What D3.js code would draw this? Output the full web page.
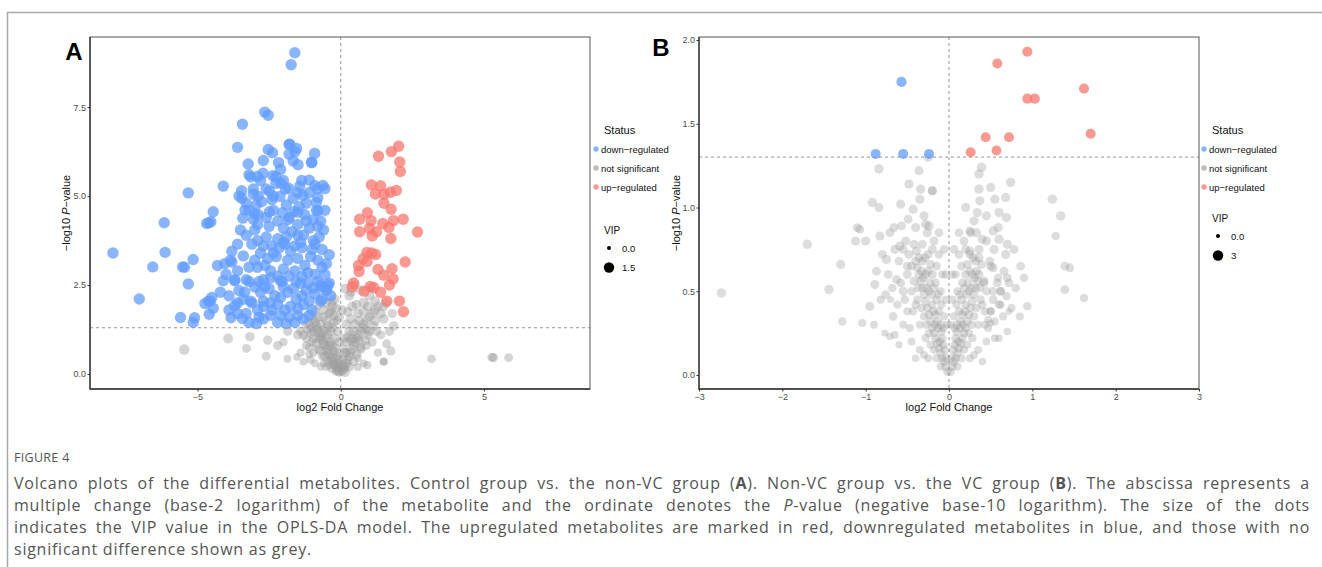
<!DOCTYPE html>
<html lang="en">
<head>
<meta charset="UTF-8">
<title>Volcano plots of the differential metabolites</title>
<script src="https://d3js.org/d3.v7.min.js"></script>
<style>
  body { margin: 0; background: #fff; }
  #wrap { position: relative; width: 1322px; height: 567px; overflow: hidden; }
  #chart { position: absolute; left: 0; top: 0; font-family: "Liberation Sans", Arial, sans-serif; }
  #caption { position: absolute; left: 14px; top: 449px; width: 1296px; font-family: "Open Sans", sans-serif; color: #555; }
  #caption .fig { font-size: 12.5px; line-height: 18px; margin-bottom: 5px; letter-spacing: 0.3px; }
  #caption .ln { font-size: 16px; line-height: 22px; letter-spacing: 0.75px; text-align: justify; text-align-last: justify; }
  #caption .ln.last { text-align-last: left; }
</style>
</head>
<body>
<div id="wrap">
  <svg id="chart" width="1322" height="567"></svg>
  <div id="caption">
    <div class="fig">FIGURE 4</div>
    <div class="ln">Volcano plots of the differential metabolites. Control group vs. the non-VC group (<b>A</b>). Non-VC group vs. the VC group (<b>B</b>). The abscissa represents a</div>
    <div class="ln">multiple change (base-2 logarithm) of the metabolite and the ordinate denotes the <i>P</i>-value (negative base-10 logarithm). The size of the dots</div>
    <div class="ln">indicates the VIP value in the OPLS-DA model. The upregulated metabolites are marked in red, downregulated metabolites in blue, and those with no</div>
    <div class="ln last">significant difference shown as grey.</div>
  </div>
</div>
<script>
// each point: [log2 fold change, -log10 P, VIP]
const downA = [
  [-1.60,9.03,1.7],[-1.73,8.69,1.7],[-2.65,7.36,1.7],[-2.53,7.27,1.7],[-3.43,7.02,1.7],[-3.60,6.37,1.7],
  [-1.80,6.45,1.7],[-1.54,6.34,1.7],[-2.53,6.31,1.7],[-2.38,6.22,1.7],[-1.80,6.18,1.7],[-1.60,6.25,1.7],
  [-0.91,6.20,1.7],[-3.23,5.90,1.7],[-2.17,5.94,1.7],[-1.66,5.99,1.7],[-1.49,5.88,1.7],[-1.01,5.94,1.7],
  [-3.14,5.54,1.7],[-2.71,5.64,1.7],[-2.26,5.54,1.7],[-2.80,5.43,1.7],[-2.26,5.36,1.7],[-4.10,5.28,1.7],
  [-5.32,5.09,1.7],[-3.46,5.15,1.7],[-3.45,4.94,1.7],[-2.88,5.00,1.7],[-2.08,5.36,1.7],[-1.82,5.22,1.7],
  [-1.43,5.28,1.7],[-0.81,5.21,1.7],[-0.55,5.21,1.7],[-1.32,5.02,1.7],[-1.66,4.94,1.7],[-2.12,4.99,1.7],
  [-2.49,5.14,1.7],[-2.76,4.84,1.7],[-0.85,4.82,1.7],[-0.79,4.59,1.7],[-4.45,4.56,1.7],[-4.53,4.28,1.7],
  [-4.68,4.23,1.7],[-6.16,4.25,1.7],[-3.34,4.61,1.7],[-2.88,4.48,1.7],[-2.49,4.56,1.7],[-2.03,4.53,1.7],
  [-1.64,4.56,1.7],[-1.26,4.48,1.7],[-3.42,4.38,1.7],[-1.83,4.34,1.7],[-0.96,4.34,1.7],
  [-1.78,6.46,1.7],[-1.02,5.95,1.7],[-3.20,5.60,1.7],[-2.90,5.55,1.7],[-2.37,5.57,1.7],[-2.00,5.44,1.7],
  [-1.36,5.44,1.7],[-0.91,5.30,1.7],[-0.62,5.30,1.7],[-3.05,5.20,1.7],[-3.05,5.05,1.7],[-2.35,5.00,1.7],
  [-1.93,5.20,1.7],[-1.50,5.10,1.7],[-1.10,5.10,1.7],[-0.80,4.96,1.7],[-4.60,4.25,1.7],[-3.20,4.60,1.7],
  [-2.60,4.40,1.7],[-2.35,4.60,1.7],[-1.80,4.40,1.7],[-1.50,4.55,1.7],[-0.85,4.60,1.7],[-3.05,4.35,1.7],
  [-3.50,4.05,1.7],[-3.00,4.05,1.7],[-2.50,4.15,1.7],[-2.00,4.10,1.7],[-1.50,4.20,1.7],[-1.10,4.10,1.7],
  [-0.80,4.15,1.7],[-0.60,4.05,1.7],[-2.60,3.85,1.7],[-2.20,3.80,1.7],[-1.90,3.85,1.7],[-1.50,3.90,1.7],
  [-0.95,3.75,1.7],[-3.60,3.65,1.7],[-3.10,3.65,1.7],[-2.70,3.60,1.7],[-2.15,3.55,1.7],[-1.75,3.45,1.7],
  [-1.35,3.55,1.7],[-0.90,3.65,1.7],[-0.65,3.50,1.7],[-0.40,3.35,1.7],[-3.40,3.32,1.7],[-3.00,3.20,1.7],
  [-2.55,3.25,1.7],[-2.25,3.30,1.7],[-1.85,3.20,1.7],[-1.50,3.25,1.7],[-1.05,3.30,1.7],[-0.80,3.20,1.7],
  [-4.05,3.10,1.7],[-3.80,3.15,1.7],[-5.15,3.22,1.7],[-5.45,3.00,1.7],[-3.20,3.00,1.7],[-2.90,3.00,1.7],
  [-2.45,2.90,1.7],[-2.00,2.95,1.7],[-1.60,2.90,1.7],[-1.15,2.85,1.7],[-0.65,3.00,1.7],[-3.70,2.65,1.7],
  [-3.30,2.65,1.7],[-2.85,2.60,1.7],[-2.45,2.70,1.7],[-2.05,2.60,1.7],[-1.55,2.60,1.7],[-1.15,2.55,1.7],
  [-0.70,2.50,1.7],[-0.40,2.55,1.7],[-5.32,2.53,1.7],[-3.55,2.35,1.7],[-3.35,2.30,1.7],[-2.80,2.30,1.7],
  [-2.30,2.20,1.7],[-1.85,2.30,1.7],[-1.35,2.20,1.7],[-0.90,2.25,1.7],[-0.50,2.35,1.7],[-4.50,2.15,1.7],
  [-4.55,2.05,1.7],[-3.60,2.00,1.7],[-3.10,2.00,1.7],[-2.70,1.90,1.7],[-2.20,1.95,1.7],[-1.75,1.90,1.7],
  [-1.30,1.95,1.7],[-0.70,2.05,1.7],[-4.45,1.85,1.7],[-3.60,1.70,1.7],[-3.30,1.70,1.7],[-2.85,1.60,1.7],
  [-2.45,1.65,1.7],[-2.10,1.65,1.7],[-1.80,1.60,1.7],[-1.50,1.65,1.7],[-2.70,1.55,1.7],[-5.10,1.58,1.7],
  [-7.95,3.40,1.7],[-6.13,3.42,1.7],[-6.56,3.01,1.7],[-5.52,3.01,1.7],[-7.03,2.11,1.7],[-4.74,1.98,1.7],
  [-4.62,2.05,1.7],[-4.59,1.68,1.7],[-5.59,1.59,1.7],[-5.15,1.45,1.7],[-3.83,1.58,1.7],[-3.43,1.56,1.7],
  [-2.94,1.42,1.7],[-1.90,1.42,1.7],[-1.30,1.55,1.7],[-4.30,3.05,1.7],[-4.10,2.62,1.7],[-3.85,3.20,1.7],
  [-3.70,2.62,1.7],[-3.20,2.60,1.7],[-2.70,2.65,1.7],[-2.10,2.62,1.7],[-1.40,2.55,1.7],[-0.96,2.42,1.7],
  [-0.49,2.38,1.7],[-0.65,2.10,1.7],[-3.90,2.20,1.7],[-3.70,1.92,1.7],[-3.15,2.05,1.7],[-2.70,2.05,1.7],
  [-2.10,2.15,1.7],[-1.55,2.10,1.7],[-1.10,2.05,1.7],[-0.65,2.45,1.7],[-0.45,2.50,1.7],
  [-2.40,4.90,1.7],[-1.20,4.80,1.7],[-2.95,4.75,1.7],[-1.40,3.70,1.7],[-2.35,3.40,1.7],[-1.25,3.05,1.7],
  [-2.65,2.45,1.7],[-1.65,2.40,1.7],[-2.40,1.80,1.7],[-1.00,1.80,1.7],[-0.35,2.20,1.7],[-1.95,3.65,1.7],
  [-3.30,4.80,1.7],[-2.90,4.20,1.7],[-2.20,4.30,1.7],[-1.70,4.00,1.7],[-1.20,4.30,1.7],[-0.70,4.30,1.7],
  [-3.30,3.90,1.7],[-2.80,3.40,1.7],[-2.00,3.70,1.7],[-1.60,3.60,1.7],[-1.00,3.50,1.7],[-0.50,3.10,1.7],
  [-3.60,2.90,1.7],[-2.65,3.05,1.7],[-2.20,2.75,1.7],[-1.80,2.75,1.7],[-1.35,2.75,1.7],[-0.90,2.80,1.7],
  [-0.55,2.80,1.7],[-3.00,2.45,1.7],[-2.50,2.40,1.7],[-2.00,2.45,1.7],[-1.20,2.35,1.7],[-0.80,2.60,1.7],
  [-3.40,2.10,1.7],[-2.90,1.80,1.7],[-2.45,2.00,1.7],[-1.95,1.80,1.7],[-1.50,1.85,1.7],[-1.10,1.65,1.7],
  [-2.20,1.45,1.7],[-3.20,1.45,1.7],[-1.60,1.45,1.7],[-1.90,4.75,1.7],[-2.60,5.20,1.7],[-1.10,5.45,1.7],
  [-2.10,5.75,1.7],[-3.00,4.50,1.7],[-3.80,3.45,1.7],[-4.00,2.80,1.7],[-3.90,1.80,1.7],[-4.20,2.30,1.7],
  [-2.40,3.60,1.7],[-1.30,3.90,1.7],[-0.75,3.85,1.7],[-2.90,3.75,1.7],[-1.45,4.70,1.7],[-0.55,4.60,1.7],
  [-3.55,5.00,1.7],[-2.70,6.00,1.7]
];
const upA = [
  [2.02,6.40,1.7],[1.77,6.25,1.7],[1.32,6.12,1.7],[2.06,5.96,1.7],[2.08,5.69,1.7],[1.07,5.31,1.7],
  [1.39,5.29,1.7],[1.94,5.16,1.7],[1.73,5.11,1.7],[1.21,5.06,1.7],[1.51,5.05,1.7],[1.51,4.80,1.7],
  [1.76,4.63,1.7],[0.93,4.53,1.7],[0.66,4.35,1.7],[1.06,4.31,1.7],[1.47,4.23,1.7],[1.84,4.31,1.7],
  [2.18,4.35,1.7],[0.66,4.00,1.7],[1.00,4.09,1.7],[1.25,4.00,1.7],[1.68,4.12,1.7],[1.10,3.88,1.7],
  [1.75,3.81,1.7],[2.68,3.99,1.7],[0.92,3.42,1.7],[1.22,3.36,1.7],[0.78,3.24,1.7],[0.92,3.16,1.7],
  [0.62,3.05,1.7],[0.64,2.88,1.7],[1.30,2.94,1.7],[1.50,2.78,1.7],[1.79,2.96,1.7],[2.25,3.15,1.7],
  [1.83,2.67,1.7],[1.70,2.50,1.7],[0.45,2.56,1.7],[0.82,2.33,1.7],[1.03,2.46,1.7],[1.15,2.43,1.7],
  [1.39,2.30,1.7],[1.61,2.05,1.7],[2.05,2.05,1.7],[2.19,1.75,1.7],[0.40,2.45,1.7],[1.08,3.40,1.7]
];
const nsA = [
  [-5.46,0.69,1.3],[-3.93,1.00,1.1],[-3.17,1.05,1.0],[-3.29,0.72,0.8],[-2.60,0.50,0.8],[-2.55,0.95,0.9],
  [-2.20,0.80,0.9],[-2.00,0.90,0.7],[-1.86,0.43,0.5],[-1.53,0.48,0.4],[-1.40,0.60,0.6],[-1.20,0.80,0.8],
  [-1.10,0.55,0.5],[-1.85,1.20,0.9],[-1.50,1.10,1.0],[-1.30,1.10,0.9],[-0.96,1.20,1.0],
  [3.17,0.43,0.7],[5.28,0.47,0.9],[5.33,0.46,0.9],[5.86,0.46,0.8],[1.50,0.35,0.6],[0.93,0.25,0.6],
  [1.75,0.65,0.9],[0.36,2.30,1.0],[0.70,0.75,0.8],
  [-0.05,0.05,0.9],[-0.10,0.10,1.0],[-0.15,0.18,1.1],[-0.20,0.25,1.0],[-0.25,0.30,0.9],[-0.30,0.38,1.1],
  [-0.35,0.45,1.0],[-0.40,0.55,1.2],[-0.45,0.60,1.0],[-0.50,0.70,1.1],[-0.55,0.80,1.0],[-0.60,0.85,1.2],
  [-0.65,0.95,1.1],[-0.70,1.05,1.0],[-0.75,1.15,1.2],[-0.80,1.25,1.1],[-0.85,1.35,1.0],[-0.90,1.45,1.2],
  [-0.95,1.55,1.1],[-0.40,1.70,1.0],[-0.30,1.90,1.1],[-0.60,1.80,1.2],[-0.20,2.10,1.0],[-0.50,1.50,1.1],
  [-0.30,1.30,1.0],[-0.20,1.00,0.9],[-0.35,0.90,1.1],[-0.15,0.60,0.8],[-0.25,0.65,0.9],[-0.45,1.10,1.0],
  [-0.55,1.25,1.1],[-0.70,1.40,1.0],[-1.00,1.30,0.9],[-1.20,1.00,0.7],[-1.00,0.90,0.8],[-0.80,0.70,0.7],
  [-0.65,0.50,0.6],[-0.95,0.60,0.6],[-1.10,0.75,0.7],[-1.30,0.35,0.5],[-0.60,0.30,0.5],[-0.40,0.25,0.6],
  [-0.10,0.30,0.8],[-0.10,0.50,0.9],[-0.05,0.20,1.0],[-0.70,0.20,0.4],[-1.40,1.20,0.8],[-1.20,1.40,0.9],
  [-0.90,1.75,1.1],[-0.75,1.95,1.0],[-0.50,2.00,1.1],[-0.15,1.50,0.9],[-0.10,1.20,1.0],[-0.25,1.65,1.0],
  [-0.32,2.03,1.1],[-0.05,0.40,0.9],[-0.20,0.45,1.0],[-0.30,0.80,0.9],[-0.50,1.00,1.0],[-0.35,1.20,1.1],
  [0.05,0.08,0.9],[0.10,0.15,1.0],[0.15,0.20,1.1],[0.20,0.30,1.0],[0.25,0.40,0.9],[0.30,0.50,1.1],
  [0.35,0.60,1.0],[0.40,0.70,1.2],[0.45,0.80,1.0],[0.50,0.90,1.1],[0.55,1.00,1.0],[0.60,1.10,1.2],
  [0.70,1.20,1.1],[0.75,1.30,1.0],[0.80,1.40,1.2],[0.90,1.50,1.1],[1.00,1.60,1.0],[1.10,1.70,1.2],
  [1.20,1.80,1.1],[1.30,1.90,1.0],[0.30,1.20,1.0],[0.20,0.90,0.9],[0.15,0.60,0.9],[0.50,1.40,1.1],
  [0.60,1.70,1.0],[0.40,1.90,1.1],[0.80,2.00,1.2],[1.00,2.20,1.1],[0.70,2.35,1.0],[0.30,2.20,1.1],
  [1.50,1.55,1.0],[1.70,1.20,0.9],[1.40,1.10,0.8],[1.10,0.90,0.8],[0.90,0.80,0.7],[1.30,0.60,0.6],
  [1.60,0.85,0.8],[1.85,1.35,0.9],[0.60,0.45,0.6],[0.80,0.30,0.5],[1.50,0.35,0.5],[0.35,1.55,1.0],
  [1.15,1.35,0.9],[0.95,1.10,0.9],[1.20,2.05,1.0],[1.50,1.90,1.0],[0.50,2.50,1.0],[0.10,0.40,0.9],
  [0.25,1.05,1.0],[0.05,0.25,1.0],[0.20,0.60,1.0],[0.40,1.00,1.0],[0.65,1.50,1.1],[0.10,0.70,0.9],
  [-0.15,0.08,1.0],[-0.30,0.15,0.9],[-0.45,0.35,1.0],[-0.55,0.50,1.1],[-0.70,0.65,1.0],[-0.85,0.85,1.1],
  [-0.95,1.00,1.0],[-1.05,1.15,1.1],[-1.15,1.25,1.0],[-0.65,1.15,1.1],[-0.75,1.00,1.0],[-0.40,0.80,1.0],
  [-0.25,1.45,1.1],[-0.45,1.35,1.0],[-0.60,1.60,1.1],[-0.80,1.60,1.0],[-1.10,1.45,1.0],[-0.35,1.75,1.1],
  [-0.15,1.85,1.0],[-0.05,1.60,1.0],[-0.50,0.20,0.6],[-0.90,0.30,0.5],[-1.05,0.40,0.6],[-0.20,0.75,0.9],
  [-0.05,0.90,0.9],[0.15,0.05,1.0],[0.30,0.20,0.9],[0.45,0.35,1.0],[0.55,0.55,1.0],[0.70,0.70,1.0],
  [0.85,0.95,1.1],[1.00,1.20,1.0],[0.20,1.40,1.0],[0.10,1.00,1.0],[0.45,1.20,1.1],[0.65,0.95,1.0],
  [0.90,1.25,1.0],[1.20,1.50,1.1],[1.40,1.70,1.0],[0.80,1.75,1.1],[0.55,1.95,1.0],[0.25,1.75,1.0],
  [0.95,1.90,1.1],[1.25,1.20,0.9],[1.60,2.00,1.0],[0.05,1.80,1.0],[0.15,2.40,1.0],[1.80,1.70,0.9],
  [0.35,0.95,1.0],[0.60,0.20,0.5]
];
const downB = [
  [-0.57,1.75,2.7],[-0.88,1.32,2.6],[-0.55,1.32,2.6],[-0.24,1.32,2.6]
];
const upB = [
  [0.94,1.93,2.7],[0.58,1.86,2.6],[1.62,1.71,2.6],[0.94,1.65,2.6],[1.03,1.65,2.6],
  [1.70,1.44,2.6],[0.44,1.42,2.5],[0.72,1.42,2.5],[0.26,1.33,2.5],[0.57,1.34,2.5]
];
const nsB = [
  [-2.73,0.49,2.2],[-1.70,0.78,2.2],[-1.44,0.51,2.2],[-1.30,0.66,2.0],[-0.95,0.41,2.0],[-1.28,0.32,1.6],
  [-1.04,0.31,1.4],[-1.12,0.80,2.0],[-1.00,0.80,2.0],[-1.07,0.87,1.8],[-0.83,0.83,2.0],[-0.71,0.85,1.8],
  [-0.75,0.69,2.0],[-0.87,0.62,1.8],[-0.89,0.54,2.0],[-0.76,0.48,1.8],[-0.73,0.60,1.8],[-0.70,0.45,0.8],
  [-0.77,0.25,0.9],[-0.71,0.23,1.0],[-0.65,0.24,1.2],[-0.67,0.35,1.6],[-0.59,0.77,2.0],[-0.55,0.75,1.8],
  [-0.50,0.65,1.8],[-0.63,0.57,1.8],[-0.55,0.50,1.8],
  [-0.84,1.23,2.2],[-0.36,1.22,2.0],[-0.25,1.30,2.0],[-0.48,1.14,2.0],[-0.34,1.11,2.0],[-0.20,1.10,2.0],
  [-0.92,1.03,2.2],[-0.84,1.00,1.8],[-0.58,1.02,2.0],[-0.43,0.99,2.0],[-0.49,0.93,1.8],[-0.28,0.90,2.2],
  [-0.24,0.89,2.0],[-1.10,0.88,1.8],[-0.66,0.88,2.0],[-0.57,0.89,1.8],[-0.40,0.88,2.0],
  [0.39,1.24,2.3],[0.36,1.20,2.2],[0.74,1.15,2.2],[0.36,1.11,2.2],[-0.20,1.10,1.8],[0.68,1.06,2.0],
  [0.55,1.05,2.0],[0.37,1.04,2.0],[1.24,1.05,2.2],[1.34,0.95,2.2],[0.69,0.94,2.0],[0.60,0.97,2.0],
  [0.34,0.97,2.0],[1.28,0.83,1.6],[0.25,0.86,1.8],[0.33,0.85,2.0],[0.53,0.86,2.0],[0.59,0.88,2.0],
  [0.60,0.81,2.2],[0.40,0.81,2.0],[0.70,0.78,2.0],[0.45,0.80,1.8],[0.25,0.74,2.0],[0.36,0.75,2.0],
  [0.54,0.75,2.0],[0.68,0.72,2.0],[0.86,0.65,1.8],[1.39,0.65,1.8],[1.45,0.64,1.8],[0.70,0.58,1.8],
  [0.53,0.64,1.8],[0.49,0.68,1.8],[0.59,0.58,1.6],[0.42,0.55,1.6],[0.53,0.50,1.6],[0.62,0.50,1.6],
  [0.69,0.47,1.6],[1.39,0.51,1.8],[1.62,0.46,1.6],[0.60,0.42,1.4],[0.94,0.41,1.6],[0.72,0.38,0.8],
  [0.50,0.38,1.4],[0.47,0.33,1.2],[0.50,0.31,1.0],[0.43,0.30,1.2],
  [-0.02,0.02,1.6],[-0.04,0.05,1.6],[-0.06,0.08,1.8],[-0.08,0.10,1.6],[-0.10,0.13,1.8],[-0.12,0.16,1.6],
  [-0.14,0.19,1.8],[-0.16,0.22,1.6],[-0.18,0.25,1.8],[-0.20,0.28,1.6],[-0.22,0.32,1.8],[-0.24,0.36,1.8],
  [-0.26,0.40,1.6],[-0.28,0.44,1.8],[-0.30,0.48,1.8],[-0.32,0.52,1.6],[-0.34,0.56,1.8],[-0.36,0.60,1.8],
  [-0.38,0.64,1.6],[-0.40,0.68,1.8],[-0.05,0.15,1.6],[-0.08,0.22,1.6],[-0.10,0.30,1.8],[-0.12,0.38,1.6],
  [-0.15,0.45,1.8],[-0.18,0.52,1.6],[-0.20,0.60,1.8],[-0.22,0.66,1.8],[-0.25,0.72,1.8],[-0.10,0.50,1.4],
  [-0.06,0.35,1.4],[-0.14,0.32,1.6],[-0.20,0.42,1.6],[-0.30,0.35,1.4],[-0.35,0.30,1.2],[-0.40,0.42,1.6],
  [-0.45,0.50,1.6],[-0.50,0.38,1.4],[-0.55,0.30,1.2],[-0.28,0.60,1.8],[-0.32,0.68,1.8],[-0.42,0.56,1.8],
  [-0.15,0.65,1.6],[-0.12,0.72,1.6],[-0.18,0.80,1.8],[-0.26,0.85,2.0],[-0.08,0.60,1.4],[-0.04,0.45,1.4],
  [-0.22,0.18,1.4],[-0.28,0.22,1.4],[-0.35,0.15,1.2],[-0.45,0.20,1.2],[-0.60,0.18,1.0],[-0.15,0.10,1.4],
  [-0.10,0.05,1.4],[-0.30,0.12,1.2],[-0.24,0.50,1.6],[-0.38,0.45,1.6],[-0.50,0.60,1.8],[-0.32,0.78,1.8],
  [0.02,0.02,1.6],[0.04,0.05,1.6],[0.06,0.08,1.8],[0.08,0.10,1.6],[0.10,0.13,1.8],[0.12,0.16,1.6],
  [0.14,0.19,1.8],[0.16,0.22,1.6],[0.18,0.25,1.8],[0.20,0.28,1.6],[0.22,0.32,1.8],[0.24,0.36,1.8],
  [0.26,0.40,1.6],[0.28,0.44,1.8],[0.30,0.48,1.8],[0.32,0.52,1.6],[0.34,0.56,1.8],[0.36,0.60,1.8],
  [0.05,0.15,1.6],[0.08,0.22,1.6],[0.10,0.30,1.8],[0.12,0.38,1.6],[0.15,0.45,1.8],[0.18,0.52,1.6],
  [0.20,0.60,1.8],[0.22,0.66,1.8],[0.25,0.72,1.8],[0.10,0.50,1.4],[0.06,0.35,1.4],[0.14,0.32,1.6],
  [0.20,0.42,1.6],[0.30,0.35,1.4],[0.35,0.30,1.2],[0.40,0.42,1.6],[0.45,0.50,1.6],[0.50,0.38,1.4],
  [0.55,0.32,1.2],[0.28,0.60,1.8],[0.32,0.68,1.8],[0.42,0.56,1.8],[0.15,0.65,1.6],[0.12,0.72,1.6],
  [0.18,0.80,1.8],[0.26,0.85,2.0],[0.08,0.60,1.4],[0.04,0.45,1.4],[0.22,0.18,1.4],[0.28,0.22,1.4],
  [0.35,0.15,1.2],[0.45,0.20,1.2],[0.60,0.22,1.0],[0.15,0.10,1.4],[0.10,0.05,1.4],[0.30,0.12,1.2],
  [0.24,0.50,1.6],[0.38,0.45,1.6],[0.50,0.65,1.8],[0.65,0.35,1.4],[0.70,0.26,1.0],[0.62,0.50,1.6],
  [-0.03,0.10,1.6],[-0.07,0.18,1.7],[-0.09,0.26,1.6],[-0.11,0.20,1.7],[-0.13,0.28,1.6],[-0.16,0.36,1.7],
  [-0.17,0.30,1.6],[-0.19,0.38,1.7],[-0.21,0.48,1.8],[-0.23,0.55,1.7],[-0.25,0.62,1.8],[-0.27,0.52,1.7],
  [-0.29,0.70,1.8],[-0.31,0.58,1.7],[-0.33,0.62,1.8],[-0.36,0.70,1.8],[-0.39,0.74,1.9],[-0.42,0.78,1.9],
  [-0.45,0.65,1.8],[-0.48,0.72,1.9],[-0.52,0.80,1.9],[-0.20,0.75,1.8],[-0.16,0.55,1.6],[-0.13,0.48,1.6],
  [-0.09,0.42,1.5],[-0.07,0.28,1.5],[-0.02,0.30,1.4],[-0.04,0.60,1.5],[-0.24,0.25,1.5],[-0.27,0.30,1.5],
  [-0.33,0.40,1.6],[-0.37,0.52,1.7],[-0.43,0.38,1.5],[-0.47,0.28,1.3],[-0.53,0.45,1.6],[-0.58,0.55,1.7],
  [-0.62,0.42,1.5],[-0.60,0.68,1.8],[-0.65,0.75,1.9],[-0.68,0.52,1.6],[-0.80,0.72,1.8],[-0.82,0.45,1.5],
  [-0.90,0.30,1.2],[-0.18,0.15,1.4],[-0.25,0.10,1.3],[-0.40,0.10,1.1],[-0.12,0.85,1.8],[-0.06,0.75,1.6],
  [-0.30,0.95,1.9],[-0.35,1.05,2.0],
  [0.03,0.10,1.6],[0.07,0.18,1.7],[0.09,0.26,1.6],[0.11,0.20,1.7],[0.13,0.28,1.6],[0.16,0.36,1.7],
  [0.17,0.30,1.6],[0.19,0.38,1.7],[0.21,0.48,1.8],[0.23,0.55,1.7],[0.25,0.62,1.8],[0.27,0.52,1.7],
  [0.29,0.70,1.8],[0.31,0.58,1.7],[0.33,0.62,1.8],[0.36,0.70,1.8],[0.39,0.66,1.8],[0.20,0.75,1.8],
  [0.16,0.55,1.6],[0.13,0.48,1.6],[0.09,0.42,1.5],[0.07,0.28,1.5],[0.02,0.30,1.4],[0.04,0.60,1.5],
  [0.24,0.25,1.5],[0.27,0.30,1.5],[0.33,0.40,1.6],[0.37,0.52,1.7],[0.43,0.38,1.5],[0.47,0.28,1.3],
  [0.53,0.45,1.6],[0.58,0.55,1.7],[0.62,0.42,1.5],[0.66,0.62,1.8],[0.72,0.55,1.7],[0.75,0.40,1.5],
  [0.80,0.52,1.6],[0.85,0.35,1.3],[0.18,0.15,1.4],[0.25,0.10,1.3],[0.40,0.08,1.1],[0.12,0.85,1.8],
  [0.06,0.75,1.6],[0.30,0.92,1.9],[0.45,0.95,1.9],[0.20,1.00,1.9],[0.50,1.12,2.0],[0.78,0.75,1.8],
  [0.90,0.58,1.6],[0.55,0.22,1.2]
];

const statusLabels = ["down\u2212regulated", "not significant", "up\u2212regulated"];
const ticksA = { x: [-5, 0, 5], y: [0, 2.5, 5, 7.5] };
const ticksB = { x: [-3, -2, -1, 0, 1, 2, 3], y: [0, 0.5, 1, 1.5, 2] };

const BLUE = "#619CFF", RED = "#F8766D", GREY = "#9a9a9a";
const svg = d3.select("#chart");

// outer frame of the figure
svg.append("path").attr("d", "M7.5,567 V12.5 H1322")
  .attr("fill", "none").attr("stroke", "#a8a8a8").attr("stroke-width", 1.5);

function drawPanel(o) {
  const x = d3.scaleLinear().domain(o.xd).range([o.l, o.r]);
  const y = d3.scaleLinear().domain(o.yd).range([o.b, o.t]);
  const size = d3.scaleSqrt().domain([0, o.vmax]).range([o.rmin, o.rmaxv]);
  const g = svg.append("g");

  // threshold lines
  g.append("line").attr("x1", x(0)).attr("x2", x(0)).attr("y1", o.t).attr("y2", o.b)
    .attr("stroke", "#7a7a7a").attr("stroke-width", 0.8).attr("stroke-dasharray", "3,3");
  g.append("line").attr("x1", o.l).attr("x2", o.r).attr("y1", y(-Math.log10(0.05))).attr("y2", y(-Math.log10(0.05)))
    .attr("stroke", "#7a7a7a").attr("stroke-width", 0.8).attr("stroke-dasharray", "3,3");

  const layers = [[o.ns, GREY, o.nsOp], [o.down, BLUE, 0.75], [o.up, RED, 0.75]];
  layers.forEach(([data, col, op]) => {
    g.append("g").selectAll("circle").data(data).join("circle")
      .attr("cx", d => x(d[0])).attr("cy", d => y(d[1]))
      .attr("r", d => size(d[2]))
      .attr("fill", col).attr("fill-opacity", op);
  });

  // panel box
  g.append("rect").attr("x", o.l).attr("y", o.t).attr("width", o.r - o.l).attr("height", o.b - o.t)
    .attr("fill", "none").attr("stroke", "#555").attr("stroke-width", 1);
  g.append("path").attr("d", `M${o.l},${o.t} V${o.b} H${o.r}`)
    .attr("fill", "none").attr("stroke", "#333").attr("stroke-width", 1.3);

  const ax = g.append("g").attr("transform", `translate(0,${o.b})`)
    .call(d3.axisBottom(x).tickValues(o.ticks.x).tickSize(2.5).tickPadding(2).tickFormat(d3.format("d")));
  const ay = g.append("g").attr("transform", `translate(${o.l},0)`)
    .call(d3.axisLeft(y).tickValues(o.ticks.y).tickSize(2.5).tickPadding(1.5).tickFormat(d3.format(".1f")));
  [ax, ay].forEach(a => {
    a.select(".domain").remove();
    a.selectAll("line").attr("stroke", "#333");
    a.selectAll("text").attr("fill", "#4d4d4d").style("font-size", "9px")
      .style("font-family", "'Liberation Sans', Arial, sans-serif")
      .text(function () { return this.textContent.replace("-", "\u2212"); });
  });

  // axis titles
  g.append("text").attr("x", (o.l + o.r) / 2).attr("y", o.b + 22).attr("text-anchor", "middle")
    .style("font-size", "11px").attr("fill", "#111").text("log2 Fold Change");
  const yt = g.append("text").attr("transform", `translate(${o.ytx},${(o.t + o.b) / 2}) rotate(-90)`)
    .attr("text-anchor", "middle").style("font-size", "11px").attr("fill", "#111");
  yt.append("tspan").text("\u2212log10 ");
  yt.append("tspan").attr("font-style", "italic").text("P");
  yt.append("tspan").text("\u2212value");

  // panel letter
  g.append("text").attr("x", o.lab[0]).attr("y", o.lab[1]).attr("text-anchor", "middle")
    .style("font-size", "24px").style("font-weight", "bold").attr("fill", "#000").text(o.letter);

  // legend
  const lg = g.append("g").attr("transform", `translate(${o.leg[0]},${o.leg[1]})`);
  lg.append("text").attr("x", 8).attr("y", 4).style("font-size", "11px").attr("fill", "#111").text("Status");
  [BLUE, "#bdbdbd", RED].forEach((c, i) => {
    lg.append("circle").attr("cx", 0).attr("cy", 19 + i * 19).attr("r", 2.7)
      .attr("fill", c).attr("fill-opacity", i === 1 ? 1 : 0.75);
    lg.append("text").attr("x", 5).attr("y", 22.5 + i * 19).style("font-size", "9.5px")
      .attr("fill", "#111").text(statusLabels[i]);
  });
  lg.append("text").attr("x", 8).attr("y", o.vipY).style("font-size", "10px").attr("fill", "#111").text("VIP");
  o.vipKeys.forEach((v, i) => {
    const cy = o.vipY + 14 + i * 19.5;
    lg.append("circle").attr("cx", o.vipDx).attr("cy", cy).attr("r", i === 0 ? 2 : 5.2).attr("fill", "#000");
    lg.append("text").attr("x", o.vipDx + 13).attr("y", cy + 3.5).style("font-size", "9.5px")
      .attr("fill", "#111").text(o.vipText[i]);
  });
}

drawPanel({
  l: 90, r: 590, t: 37, b: 389, xd: [-8.75, 8.7], yd: [-0.42, 9.47], ticks: ticksA,
  ns: nsA, down: downA, up: upA, vmax: 1.7, rmin: 1.8, rmaxv: 5.7, nsOp: 0.42,
  ytx: 70, lab: [74, 60], letter: "A",
  leg: [596, 130], vipY: 104, vipDx: 13, vipKeys: [0, 1.5], vipText: ["0.0", "1.5"]
});
drawPanel({
  l: 699, r: 1199, t: 37, b: 389, xd: [-3, 3], yd: [-0.0836, 2.018], ticks: ticksB,
  ns: nsB, down: downB, up: upB, vmax: 2.7, rmin: 1.5, rmaxv: 5.1, nsOp: 0.34,
  ytx: 680, lab: [661, 56], letter: "B",
  leg: [1204, 130], vipY: 92, vipDx: 14, vipKeys: [0, 3], vipText: ["0.0", "3"]
});
</script>
</body>
</html>
